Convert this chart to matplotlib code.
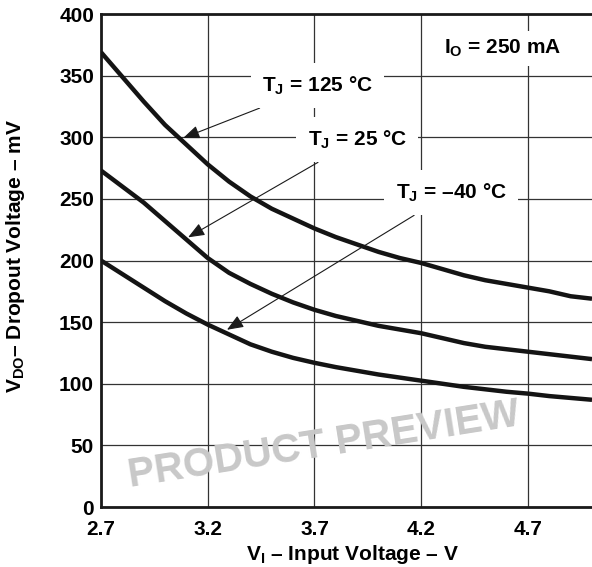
import numpy as np
import matplotlib
matplotlib.use("Agg")
import matplotlib.pyplot as plt

plt.rcParams['font.family'] = ['Liberation Sans', 'DejaVu Sans']
plt.rcParams['font.weight'] = 'bold'
plt.rcParams['mathtext.fontset'] = 'custom'
plt.rcParams['mathtext.rm'] = 'Liberation Sans:bold'
plt.rcParams['mathtext.it'] = 'Liberation Sans:bold'
plt.rcParams['mathtext.bf'] = 'Liberation Sans:bold'

# dropout voltage (mV) vs input voltage (V), IO = 250 mA
vi = [2.7, 2.8, 2.9, 3.0, 3.1, 3.2, 3.3, 3.4, 3.5, 3.6, 3.7, 3.8,
      3.9, 4.0, 4.1, 4.2, 4.3, 4.4, 4.5, 4.6, 4.7, 4.8, 4.9, 5.0]
vdo_125 = [369, 349, 329, 310, 294, 278, 264, 252, 242, 234, 226, 219,
           213, 207, 202, 198, 193, 188, 184, 181, 178, 175, 171, 169]
vdo_25 = [273, 260, 247, 232, 217, 202, 190, 181, 173, 166, 160, 155,
          151, 147, 144, 141, 137, 133, 130, 128, 126, 124, 122, 120]
vdo_m40 = [200, 189, 178, 167, 157, 148, 140, 132, 126, 121, 117, 113.5,
           110.5, 107.5, 105, 102.5, 100, 97.5, 95.5, 93.5, 92, 90, 88.5, 87]

xticks = [2.7, 3.2, 3.7, 4.2, 4.7]
yticks = [0, 50, 100, 150, 200, 250, 300, 350, 400]

fs = 15

fig = plt.figure(figsize=(5.92, 5.67), dpi=100)
ax = fig.add_axes([0.1706, 0.1058, 0.8294, 0.8695])

for y in [vdo_125, vdo_25, vdo_m40]:
    ax.plot(vi, y, color='#141414', lw=3.2, solid_joinstyle='round',
            solid_capstyle='butt', zorder=3)

ax.set_xlim(2.7, 5.0)
ax.set_ylim(0, 400)
ax.set_xticks(xticks)
ax.set_yticks(yticks)
ax.set_xticklabels([f'{v:.1f}' for v in xticks])
ax.tick_params(length=0, labelsize=fs)
ax.tick_params(axis='x', pad=9)
ax.tick_params(axis='y', pad=5)
ax.grid(True, color='#333333', lw=0.9, zorder=0)
ax.set_axisbelow(True)

for side in ['left', 'bottom', 'top']:
    ax.spines[side].set_linewidth(2)
    ax.spines[side].set_color('#1a1a1a')
ax.spines['right'].set_visible(False)

ax.set_xlabel(r'$\mathrm{V_I}$ – Input Voltage – V', fontsize=fs, fontweight='bold')
ax.set_ylabel(r'$\mathrm{V_{DO}}$– Dropout Voltage – mV', fontsize=fs, fontweight='bold')
ax.xaxis.set_label_coords(0.513, -0.073)
ax.yaxis.set_label_coords(-0.150, 0.51)

# curve labels with leader arrows
box = dict(boxstyle='square,pad=0.55', fc='white', ec='none')
arrow = dict(arrowstyle='-|>,head_length=0.5,head_width=0.2', mutation_scale=20,
             color='#1a1a1a', lw=0.8, shrinkA=0, shrinkB=0)
labels = [
    (r'$\mathrm{T_J}$ = 125 °C', (3.714, 342), 3.085, vdo_125),
    (r'$\mathrm{T_J}$ = 25 °C', (3.90, 298), 3.108, vdo_25),
    (r'$\mathrm{T_J}$ = –40 °C', (4.34, 255), 3.29, vdo_m40),
]
for text, xy_text, tip_x, ys in labels:
    tip_y = np.interp(tip_x, vi, ys) + 3
    ax.annotate(text, xy=(tip_x, tip_y), xytext=xy_text, fontsize=fs, fontweight='bold',
                ha='center', va='center', bbox=box, arrowprops=arrow, zorder=5)

ax.text(4.583, 372, r'$\mathrm{I_O}$ = 250 mA', fontsize=fs, fontweight='bold',
        ha='center', va='center', zorder=5,
        bbox=dict(boxstyle='square,pad=0.35', fc='white', ec='none'))

ax.text(0.454, 0.126, 'PRODUCT PREVIEW', transform=ax.transAxes, fontsize=29,
        fontweight='bold', color='#c8c8c8', rotation=9, ha='center', va='center',
        zorder=2)

fig.savefig('out.png', dpi=100)
